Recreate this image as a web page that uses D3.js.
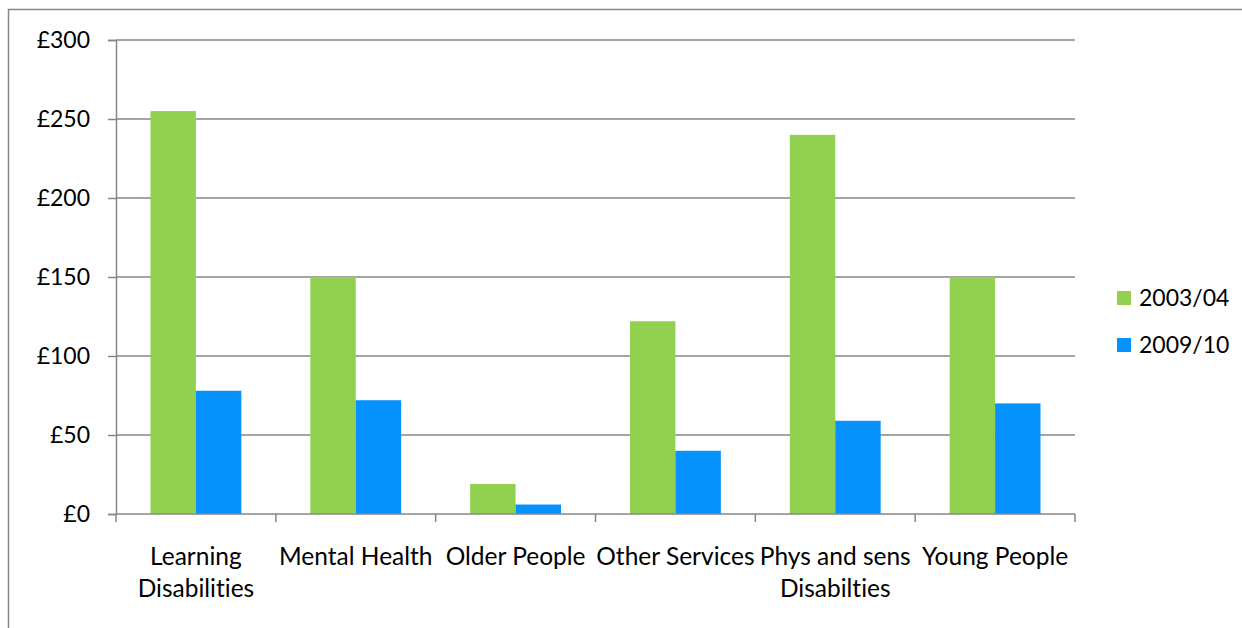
<!DOCTYPE html>
<html>
<head>
<meta charset="utf-8">
<script src="https://cdn.jsdelivr.net/npm/d3@7"></script>
<style>
  html, body { margin: 0; padding: 0; background: #fff; }
  svg { display: block; }
  text { font-family: Lato, "Open Sans", sans-serif; fill: #000; font-variant-ligatures: none; }
</style>
</head>
<body>
<svg id="chart" width="1242" height="628"></svg>
<script>
// Spending per category, two years
const categories = [
  ["Learning", "Disabilities"],
  ["Mental Health"],
  ["Older People"],
  ["Other Services"],
  ["Phys and sens", "Disabilties"],
  ["Young People"]
];
const seriesNames = ["2003/04", "2009/10"];
const values2003 = [255, 150, 19, 122, 240, 150];
const values2009 = [78, 72, 6, 40, 59, 70];
const yTicks = [0, 50, 100, 150, 200, 250, 300];
const colors = ["#92D050", "#0592FD"];

const svg = d3.select("#chart");
const margin = { left: 116, right: 167, top: 40, bottom: 114 };
const W = 1242, H = 628;
const plotW = W - margin.left - margin.right;
const plotH = H - margin.top - margin.bottom;

// Outer chart frame (right and bottom edges run past the view)
svg.append("rect")
  .attr("x", 8.5).attr("y", 9.5)
  .attr("width", 1300).attr("height", 700)
  .attr("fill", "none").attr("stroke", "#868686").attr("stroke-width", 1.5);

const g = svg.append("g").attr("transform", `translate(${margin.left},${margin.top})`);

const x = d3.scaleBand().domain(d3.range(categories.length)).range([0, plotW]).padding(0);
const y = d3.scaleLinear().domain([0, 300]).range([plotH, 0]);
const xInner = d3.scaleBand().domain(seriesNames).range([34.5, x.bandwidth() - 34.5]).padding(0);

// Y axis with ticks
const yAxis = d3.axisLeft(y).tickValues(yTicks).tickSize(8).tickPadding(18)
  .tickFormat(d => "£" + d);
const yg = g.append("g").call(yAxis);
yg.select(".domain").attr("stroke", "#868686").attr("stroke-width", 1.5);
yg.selectAll(".tick line").attr("stroke", "#868686").attr("stroke-width", 1.5);
yg.selectAll(".tick text").attr("font-size", 23).attr("font-family", "Lato, sans-serif");

// Horizontal gridlines
g.append("g").selectAll("line")
  .data(yTicks.filter(d => d > 0))
  .join("line")
  .attr("x1", 0).attr("x2", plotW)
  .attr("y1", d => y(d)).attr("y2", d => y(d))
  .attr("stroke", "#868686").attr("stroke-width", 1.5);

// Bars
const rows = categories.map((c, i) => ({ i, vals: [values2003[i], values2009[i]] }));
const groups = g.append("g").selectAll("g")
  .data(rows).join("g")
  .attr("transform", d => `translate(${x(d.i)},0)`);
groups.selectAll("rect")
  .data(d => d.vals.map((v, k) => ({ v, k })))
  .join("rect")
  .attr("x", d => xInner(seriesNames[d.k]))
  .attr("width", xInner.bandwidth())
  .attr("y", d => y(d.v))
  .attr("height", d => y(0) - y(d.v))
  .attr("fill", d => colors[d.k]);

// X axis with boundary ticks
const xg = g.append("g").attr("transform", `translate(0,${plotH})`);
xg.append("line").attr("x1", 0).attr("x2", plotW)
  .attr("stroke", "#868686").attr("stroke-width", 1.5);
xg.selectAll("line.tk")
  .data(d3.range(categories.length + 1))
  .join("line").attr("class", "tk")
  .attr("x1", i => i * x.step()).attr("x2", i => i * x.step())
  .attr("y1", 0).attr("y2", 8)
  .attr("stroke", "#868686").attr("stroke-width", 1.5);

const labels = xg.selectAll("text.cat")
  .data(categories)
  .join("text").attr("class", "cat")
  .attr("text-anchor", "middle")
  .attr("font-size", 24.5)
  .attr("transform", (d, i) => `translate(${x(i) + x.bandwidth() / 2},51)`);
labels.selectAll("tspan")
  .data(d => d)
  .join("tspan")
  .attr("x", 0)
  .attr("dy", (d, k) => k === 0 ? 0 : 32)
  .text(d => d);

// Legend
const legend = svg.append("g").attr("transform", "translate(1117,291)");
const items = legend.selectAll("g").data(seriesNames).join("g")
  .attr("transform", (d, k) => `translate(0,${k * 47})`);
items.append("rect").attr("width", 14).attr("height", 14)
  .attr("fill", (d, k) => colors[k]);
items.append("text").attr("x", 22).attr("y", 15)
  .attr("font-size", 23).text(d => d);
</script>
</body>
</html>
